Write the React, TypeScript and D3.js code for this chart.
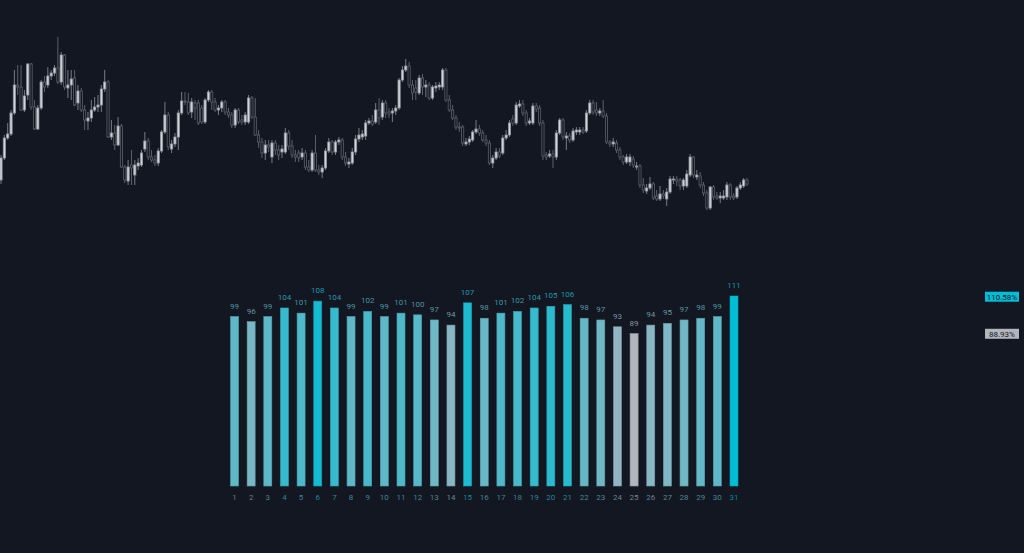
import React from "react";
import * as d3 from "d3";

// ---- Candlestick series (price units) ----
const opens = [40,62,82,86,107,135,133,110,125,156,113,91,112,138,135,144,147,152,138,165,132,135,142,117,129,110,99,102,110,113,115,131,138,83,87,75,94,53,39,55,45,54,55,71,79,63,60,57,69,88,105,71,76,83,107,119,118,108,117,117,112,98,120,128,118,110,112,118,108,105,95,110,100,98,98,122,103,85,78,67,75,63,77,70,68,68,87,74,65,67,63,67,53,50,67,50,48,52,69,78,68,78,80,63,56,57,68,81,83,84,97,99,98,110,103,117,108,107,109,112,140,150,154,135,132,127,142,133,135,122,132,133,133,150,120,110,102,93,93,76,78,80,88,91,87,80,77,57,62,68,67,82,85,101,97,114,116,107,97,97,114,112,97,65,64,66,63,87,100,82,84,80,88,88,90,89,107,117,110,107,109,104,78,76,77,70,63,58,58,61,53,54,35,29,32,36,24,21,26,21,28,40,41,40,34,34,45,63,43,44,35,27,12,33,24,22,22,23,35,24,23,32,34,40];
const highs = [65,85,97,110,150,155,155,130,157,157,120,115,140,144,153,150,155,183,168,166,150,150,150,135,132,115,108,120,123,125,135,150,140,100,95,103,96,55,60,70,60,62,70,88,82,70,65,72,90,118,108,80,87,110,128,128,127,122,120,120,115,122,130,130,122,115,120,120,112,108,112,112,105,108,125,124,122,90,82,80,80,80,80,75,75,92,90,80,70,70,72,70,60,70,85,55,55,72,82,80,80,83,82,68,62,72,85,92,90,100,102,105,117,122,120,120,112,112,115,142,154,161,158,140,140,145,146,140,138,135,138,138,152,152,125,115,105,98,95,82,84,90,100,95,90,85,80,65,72,72,85,90,100,105,118,120,120,110,102,117,117,115,100,68,70,70,90,102,102,88,87,92,93,93,93,110,120,120,118,112,120,107,80,82,80,73,65,66,66,64,58,56,42,36,43,38,30,34,30,32,44,44,44,42,42,50,66,64,50,48,38,30,34,35,28,28,30,38,37,27,34,38,42,42];
const lows = [36,60,80,84,105,125,109,108,120,110,90,90,110,128,132,140,144,136,135,130,122,120,114,110,108,90,90,98,108,108,108,128,82,80,70,74,52,37,35,35,35,50,53,68,60,58,54,54,67,86,70,67,73,70,105,115,105,102,100,95,96,96,118,110,108,105,108,105,102,92,92,96,95,95,96,101,84,72,62,60,68,57,65,60,62,66,70,62,58,58,60,50,48,48,48,45,42,50,67,65,65,75,60,54,52,55,65,78,80,80,95,94,96,95,100,102,102,98,105,110,138,148,132,120,120,125,125,123,120,120,128,130,130,118,108,100,90,88,74,74,75,78,86,84,78,74,55,52,60,62,65,80,83,94,95,112,104,94,95,95,108,94,60,60,62,52,60,85,80,70,77,78,85,85,86,87,105,105,104,104,102,76,73,73,67,60,55,56,54,52,50,32,27,26,30,20,19,19,21,14,26,36,34,30,30,32,43,42,40,32,24,10,10,20,20,17,20,20,20,20,21,30,32,34];
const closes = [62,82,86,107,135,133,110,124,156,113,91,112,138,133,144,147,152,138,165,133,135,141,115,129,110,100,102,110,113,115,131,138,83,87,75,94,53,40,53,52,55,57,67,79,63,60,57,69,88,105,73,76,83,107,119,118,107,118,112,97,98,120,128,118,110,112,118,108,105,95,110,98,98,105,122,103,85,78,67,75,73,77,70,65,71,87,74,65,63,62,67,53,50,67,50,48,52,69,78,68,78,80,63,57,58,68,81,85,86,97,99,96,110,102,117,107,106,109,112,140,150,154,135,127,128,142,133,135,122,133,134,135,150,120,110,102,93,92,77,78,81,88,91,87,80,77,57,62,68,64,82,85,97,97,115,116,107,97,99,114,111,97,64,63,66,63,87,100,83,84,80,89,90,90,88,107,117,108,107,109,104,78,76,78,70,63,58,63,63,55,54,35,30,32,36,22,21,26,24,28,41,41,39,34,40,46,63,45,45,35,27,12,33,23,22,24,24,35,23,22,32,35,40,36];

// ---- Bar series ----
const dayLabels = ["1","2","3","4","5","6","7","8","9","10","11","12","13","14","15","16","17","18","19","20","21","22","23","24","25","26","27","28","29","30","31"];
const dayValues = [99,96,99,104,101,108,104,99,102,99,101,100,97,94,107,98,101,102,104,105,106,98,97,93,89,94,95,97,98,99,111];
const scaleMax = 110.58;
const scaleMin = 88.93;
const scaleLabels = ["110.58%", "88.93%"];

const W = 1024;
const H = 553;
const BG = "#131722";
const FONT = "Roboto, 'Noto Sans', sans-serif";

export default function App() {
  const idx = d3.range(opens.length);
  const xC = d3.scalePoint<number>().domain(idx).range([1, 747]);
  const yC = d3.scaleLinear().domain([0, 200]).range([220, 20]);

  const xB = d3.scalePoint<string>().domain(dayLabels).range([234.5, 734]);
  const yB = d3.scaleLinear().domain([0, 111]).range([486, 296]);
  const color = d3
    .scaleLinear<string>()
    .domain([scaleMin, scaleMax])
    .range(["#b2b5be", "#00bcd4"])
    .interpolate(d3.interpolateRgb)
    .clamp(true);

  const bw = 8;
  const cw = 2.2;

  return (
    <div style={{ position: "fixed", left: 0, top: 0, width: W, height: H, background: BG }}>
      <svg width={W} height={H} style={{ display: "block" }}>
        <rect x={0} y={0} width={W} height={H} fill={BG} />
        <g>
          {idx.map((i) => {
            const x = xC(i)!;
            const up = closes[i] >= opens[i];
            const top = yC(Math.max(opens[i], closes[i]));
            const bot = yC(Math.min(opens[i], closes[i]));
            return (
              <g key={i}>
                <line
                  x1={x}
                  x2={x}
                  y1={yC(highs[i])}
                  y2={yC(lows[i])}
                  stroke={up ? "#787b86" : "#5d606b"}
                  strokeWidth={1}
                />
                <rect
                  x={x - cw / 2}
                  y={top}
                  width={cw}
                  height={Math.max(1, bot - top)}
                  fill={up ? "#d1d4dc" : BG}
                  stroke={up ? "#9598a1" : "#5d606b"}
                  strokeWidth={0.8}
                />
              </g>
            );
          })}
        </g>
        <g>
          {dayValues.map((v, i) => {
            const x = xB(dayLabels[i])!;
            const c = color(v);
            return (
              <g key={i}>
                <rect
                  x={x - bw / 2}
                  y={yB(v)}
                  width={bw}
                  height={yB(0) - yB(v)}
                  fill={c}
                  stroke={d3.color(c)!.darker(0.4).toString()}
                  strokeWidth={0.6}
                />
                <text
                  x={x}
                  y={yB(v) - 8}
                  textAnchor="middle"
                  fontFamily={FONT}
                  fontSize={8}
                  fill={c}
                  fillOpacity={0.8}
                >
                  {v}
                </text>
                <text
                  x={x}
                  y={500}
                  textAnchor="middle"
                  fontFamily={FONT}
                  fontSize={8}
                  fill={c}
                  fillOpacity={0.7}
                >
                  {dayLabels[i]}
                </text>
              </g>
            );
          })}
        </g>
        <g>
          {[scaleMax, scaleMin].map((v, i) => {
            const y = yB(v);
            const bg = color(v);
            return (
              <g key={i}>
                <rect x={985} y={y - 5} width={34} height={10} fill={bg} />
                <text
                  x={1002}
                  y={y + 3}
                  textAnchor="middle"
                  fontFamily={FONT}
                  fontSize={8}
                  fill={BG}
                >
                  {scaleLabels[i]}
                </text>
              </g>
            );
          })}
        </g>
      </svg>
    </div>
  );
}
